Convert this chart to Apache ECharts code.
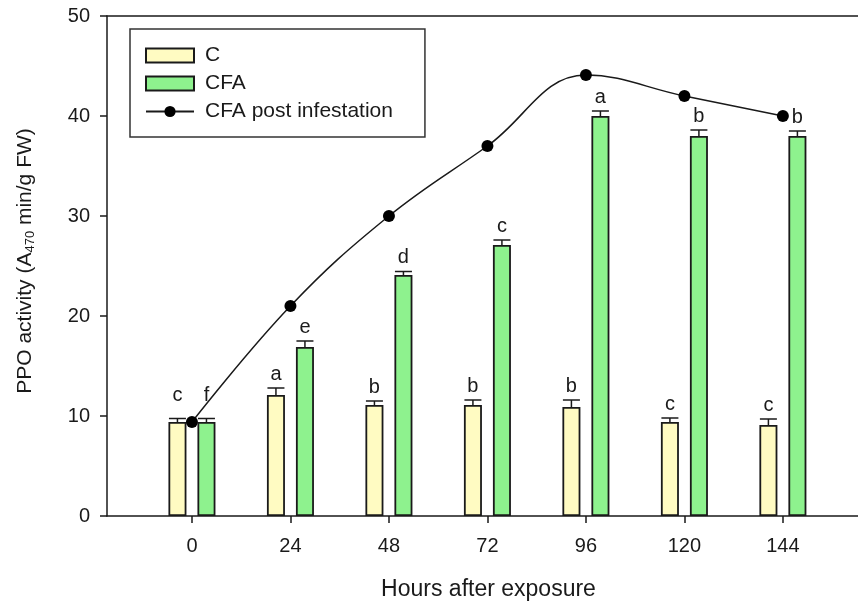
<!DOCTYPE html>
<html>
<head>
<meta charset="utf-8">
<script src="https://cdn.jsdelivr.net/npm/echarts@6/dist/echarts.min.js"></script>
<style>
html,body{margin:0;padding:0;background:#fff;}
#chart{width:858px;height:608px;}
</style>
</head>
<body>
<div id="chart"></div>
<script>
// ---- data ----
var hours = [0, 24, 48, 72, 96, 120, 144];
var xTicks = [0, 24, 48, 72, 96, 120, 144];
var yTicks = [0, 10, 20, 30, 40, 50];
var cValues = [9.4, 12.1, 11.1, 11.1, 10.9, 9.4, 9.1];
var cErrors = [0.35, 0.7, 0.4, 0.5, 0.7, 0.4, 0.6];
var cLetters = ['c', 'a', 'b', 'b', 'b', 'c', 'c'];
var cfaValues = [9.4, 16.9, 24.1, 27.1, 40.0, 38.0, 38.0];
var cfaErrors = [0.35, 0.6, 0.35, 0.5, 0.5, 0.6, 0.5];
var cfaLetters = ['f', 'e', 'd', 'c', 'a', 'b', 'b'];
var postValues = [9.4, 21.0, 30.0, 37.0, 44.1, 42.0, 40.0];

// ---- style constants ----
var FONT = 'Liberation Sans, Arial, sans-serif';
var INK = '#1a1a1a';
var BAR_W = 18;
var BAR_GAP = 11;
var HALF = (BAR_W + BAR_GAP) / 2;

function pairs(vals) { return hours.map(function (h, i) { return [h, vals[i]]; }); }
function errData(vals, errs, letters) {
  return hours.map(function (h, i) { return [h, vals[i], errs[i], letters[i]]; });
}

function errRenderer(shift) {
  return function (params, api) {
    var x = api.value(0), v = api.value(1), e = api.value(2);
    var letter = api.value(3);
    var base = api.coord([x, v]);
    var top = api.coord([x, v + e]);
    var cx = base[0] + shift;
    var capHalf = 8.5;
    var lift = params.dataIndex === 0 ? 23 : 14;
    return {
      type: 'group',
      children: [
        { type: 'line', shape: { x1: cx, y1: base[1], x2: cx, y2: top[1] },
          style: { stroke: INK, lineWidth: 1.5 } },
        { type: 'line', shape: { x1: cx - capHalf, y1: top[1], x2: cx + capHalf, y2: top[1] },
          style: { stroke: INK, lineWidth: 1.5 } },
        { type: 'text', x: cx, y: top[1] - lift,
          style: { text: letter, fill: INK, font: '20px ' + FONT, align: 'center', verticalAlign: 'middle' } }
      ]
    };
  };
}

var chart = echarts.init(document.getElementById('chart'), null, { renderer: 'canvas' });
var axisLineStyle = { color: INK, width: 1.5 };

chart.setOption({
  animation: false,
  backgroundColor: '#fff',
  textStyle: { fontFamily: FONT },
  grid: { left: 107, right: 0, top: 16, bottom: 92, containLabel: false },
  legend: {
    left: 130, top: 29, orient: 'vertical',
    data: [{ name: 'C', icon: 'rect' }, { name: 'CFA', icon: 'rect' }, { name: 'CFA post infestation' }],
    itemWidth: 48, itemHeight: 14, itemGap: 7,
    padding: [16, 32, 15, 15],
    borderColor: '#333', borderWidth: 1.5,
    backgroundColor: '#fff',
    textStyle: { fontSize: 21, color: INK, fontFamily: FONT, padding: [0, 0, 0, 6] }
  },
  xAxis: [{
    type: 'value', min: -20.7, max: 162.3,
    name: 'Hours after exposure', nameLocation: 'middle', nameGap: 62,
    nameTextStyle: { fontSize: 23, color: INK, fontFamily: FONT, padding: [0, 0, 0, 12] },
    axisLine: { show: true, onZero: false, lineStyle: axisLineStyle },
    axisTick: { show: true, inside: false, length: 7, lineStyle: axisLineStyle, customValues: xTicks },
    axisLabel: { show: true, fontSize: 20, color: INK, margin: 20, customValues: xTicks },
    splitLine: { show: false }
  }, {
    type: 'value', position: 'top', min: -20.7, max: 162.3,
    axisLine: { show: true, onZero: false, lineStyle: axisLineStyle },
    axisTick: { show: false }, axisLabel: { show: false }, splitLine: { show: false }
  }],
  yAxis: {
    type: 'value', min: 0, max: 50, interval: 10,
    name: 'PPO activity (A{sub|470} min/g FW)', nameLocation: 'middle', nameGap: 70,
    nameTextStyle: { fontSize: 21, color: INK, fontFamily: FONT, padding: [0, 0, 0, 10],
      rich: { sub: { fontSize: 13, color: INK, fontFamily: FONT, verticalAlign: 'bottom', padding: [10, 0, 0, 0] } } },
    axisLine: { show: true, onZero: false, lineStyle: axisLineStyle },
    axisTick: { show: true, inside: false, length: 7, lineStyle: axisLineStyle },
    axisLabel: { show: true, fontSize: 20, color: INK, margin: 17,
      formatter: function (v) { return yTicks.indexOf(v) >= 0 ? String(v) : ''; } },
    splitLine: { show: false }
  },
  series: [
    { name: 'C', type: 'bar', data: pairs(cValues), barWidth: BAR_W, barGap: (BAR_GAP / BAR_W * 100) + '%',
      itemStyle: { color: '#fffbc2', borderColor: INK, borderWidth: 1.8 }, z: 2 },
    { name: 'CFA', type: 'bar', data: pairs(cfaValues), barWidth: BAR_W,
      itemStyle: { color: '#8ef28e', borderColor: INK, borderWidth: 1.8 }, z: 2 },
    { name: 'C err', type: 'custom', data: errData(cValues, cErrors, cLetters),
      renderItem: errRenderer(-HALF), z: 3, silent: true },
    { name: 'CFA err', type: 'custom', data: errData(cfaValues, cfaErrors, cfaLetters),
      renderItem: errRenderer(HALF), z: 3, silent: true },
    { name: 'CFA post infestation', type: 'line', data: pairs(postValues), smooth: 0.4,
      symbol: 'circle', symbolSize: 12, showSymbol: true,
      lineStyle: { color: INK, width: 1.5 }, itemStyle: { color: '#000' }, z: 5 }
  ]
});
</script>
</body>
</html>
